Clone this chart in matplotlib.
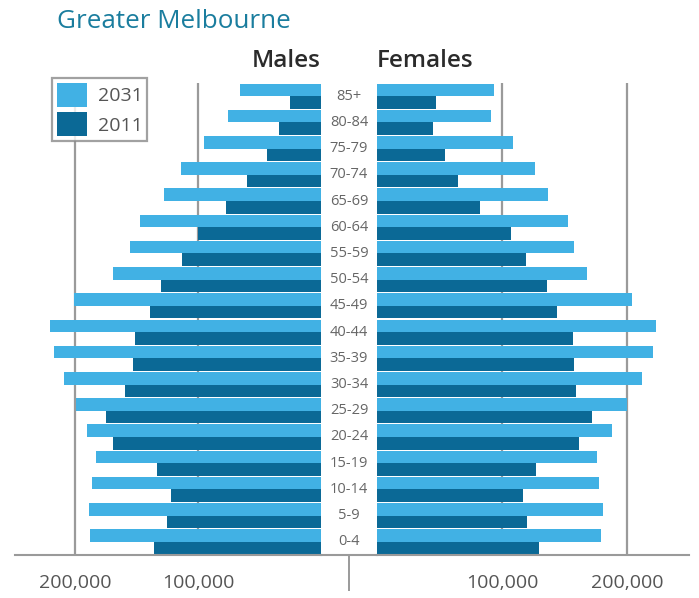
import matplotlib
matplotlib.use("Agg")
import matplotlib.pyplot as plt
import numpy as np

plt.rcParams['font.family'] = ['Open Sans', 'DejaVu Sans']

# age groups, youngest first
ages = ["0-4", "5-9", "10-14", "15-19", "20-24", "25-29", "30-34", "35-39",
        "40-44", "45-49", "50-54", "55-59", "60-64", "65-69", "70-74",
        "75-79", "80-84", "85+"]

# persons
males_2031 = [188000, 189000, 186000, 183000, 190000, 199000, 209000, 217000,
              220000, 201000, 169000, 155000, 147000, 128000, 114000,
              95000, 75500, 65500]
males_2011 = [136000, 125500, 122000, 133000, 169000, 175000, 159000, 153000,
              151000, 139000, 130000, 113000, 100000, 77000, 60000,
              44000, 34500, 25000]
females_2031 = [179500, 181000, 177500, 176000, 188000, 200000, 212000, 221000,
                223000, 204000, 168000, 157500, 152500, 137000, 126000,
                109000, 91000, 93500]
females_2011 = [129500, 120000, 117000, 127000, 161500, 172000, 159000, 157500,
                157000, 144000, 136000, 119000, 107000, 82000, 65000,
                54000, 45000, 47500]

tick_vals = [100000, 200000]
tick_labels = ["100,000", "200,000"]

c_2031 = "#41b1e4"
c_2011 = "#0b6996"
grid_c = "#9a9a9a"
label_c = "#555555"

W, H = 699, 598
fig = plt.figure(figsize=(W / 100, H / 100), dpi=100)
fig.patch.set_facecolor("white")

y_bot = 1 - 555 / H
y_h = (555 - 83) / H
ax_m = fig.add_axes([15 / W, y_bot, (321 - 15) / W, y_h])
ax_c = fig.add_axes([321 / W, y_bot, (377 - 321) / W, y_h], sharey=ax_m)
ax_f = fig.add_axes([377 / W, y_bot, (689 - 377) / W, y_h], sharey=ax_m)

y = np.arange(len(ages))
bh = 0.48

for ax, v31, v11 in [(ax_m, males_2031, males_2011), (ax_f, females_2031, females_2011)]:
    ax.barh(y + bh / 2, v31, height=bh, color=c_2031, zorder=2, label="2031")
    ax.barh(y - bh / 2, v11, height=bh, color=c_2011, zorder=2, label="2011")
    for t in tick_vals:
        ax.axvline(t, color=grid_c, lw=1.6, zorder=1)
    ax.set_xticks(tick_vals)
    ax.set_xticklabels(tick_labels)
    ax.tick_params(axis="x", length=0, pad=14, labelsize=14, labelcolor=label_c)
    ax.tick_params(axis="y", left=False, labelleft=False)

ax_m.set_xlim(248800, 0)
ax_f.set_xlim(0, 249600)
ax_m.set_ylim(-0.5, 17.5)

# centre column with age labels
ax_c.set_xlim(0, 1)
ax_c.set_xticks([0.5])
ax_c.set_xticklabels([""])
ax_c.tick_params(axis="x", direction="out", length=26, width=1.4, color=grid_c)
ax_c.tick_params(axis="y", left=False, labelleft=False)
for i, a in enumerate(ages):
    ax_c.text(0.5, i, a, ha="center", va="center", fontsize=10.5, color="#666666")

for ax in (ax_m, ax_c, ax_f):
    for s in ("top", "left", "right"):
        ax.spines[s].set_visible(False)
    ax.spines["bottom"].set_color(grid_c)
    ax.spines["bottom"].set_linewidth(1.5)
    ax.set_facecolor("none")

fig.text(57 / W, 1 - 21 / H, "Greater Melbourne", fontsize=18.7, color="#1a7d9e",
         ha="left", va="center")
fig.text(321 / W, 1 - 61 / H, "Males", fontsize=17.5, color="#2b2b2b",
         ha="right", va="center", fontweight="semibold")
fig.text(377 / W, 1 - 61 / H, "Females", fontsize=17.5, color="#2b2b2b",
         ha="left", va="center", fontweight="semibold")

handles, labels = ax_m.get_legend_handles_labels()
leg = fig.legend(handles, labels, loc="upper left",
                 bbox_to_anchor=(52 / W, 1 - 78 / H), fontsize=14,
                 frameon=True, fancybox=False, borderpad=0.25,
                 handlelength=1.55, handleheight=1.5, handletextpad=0.55,
                 labelspacing=0.3, borderaxespad=0)
leg.get_frame().set_edgecolor("#8a8a8a")
leg.get_frame().set_linewidth(1.6)
for t in leg.get_texts():
    t.set_color(label_c)

fig.savefig("out.png", dpi=100)
